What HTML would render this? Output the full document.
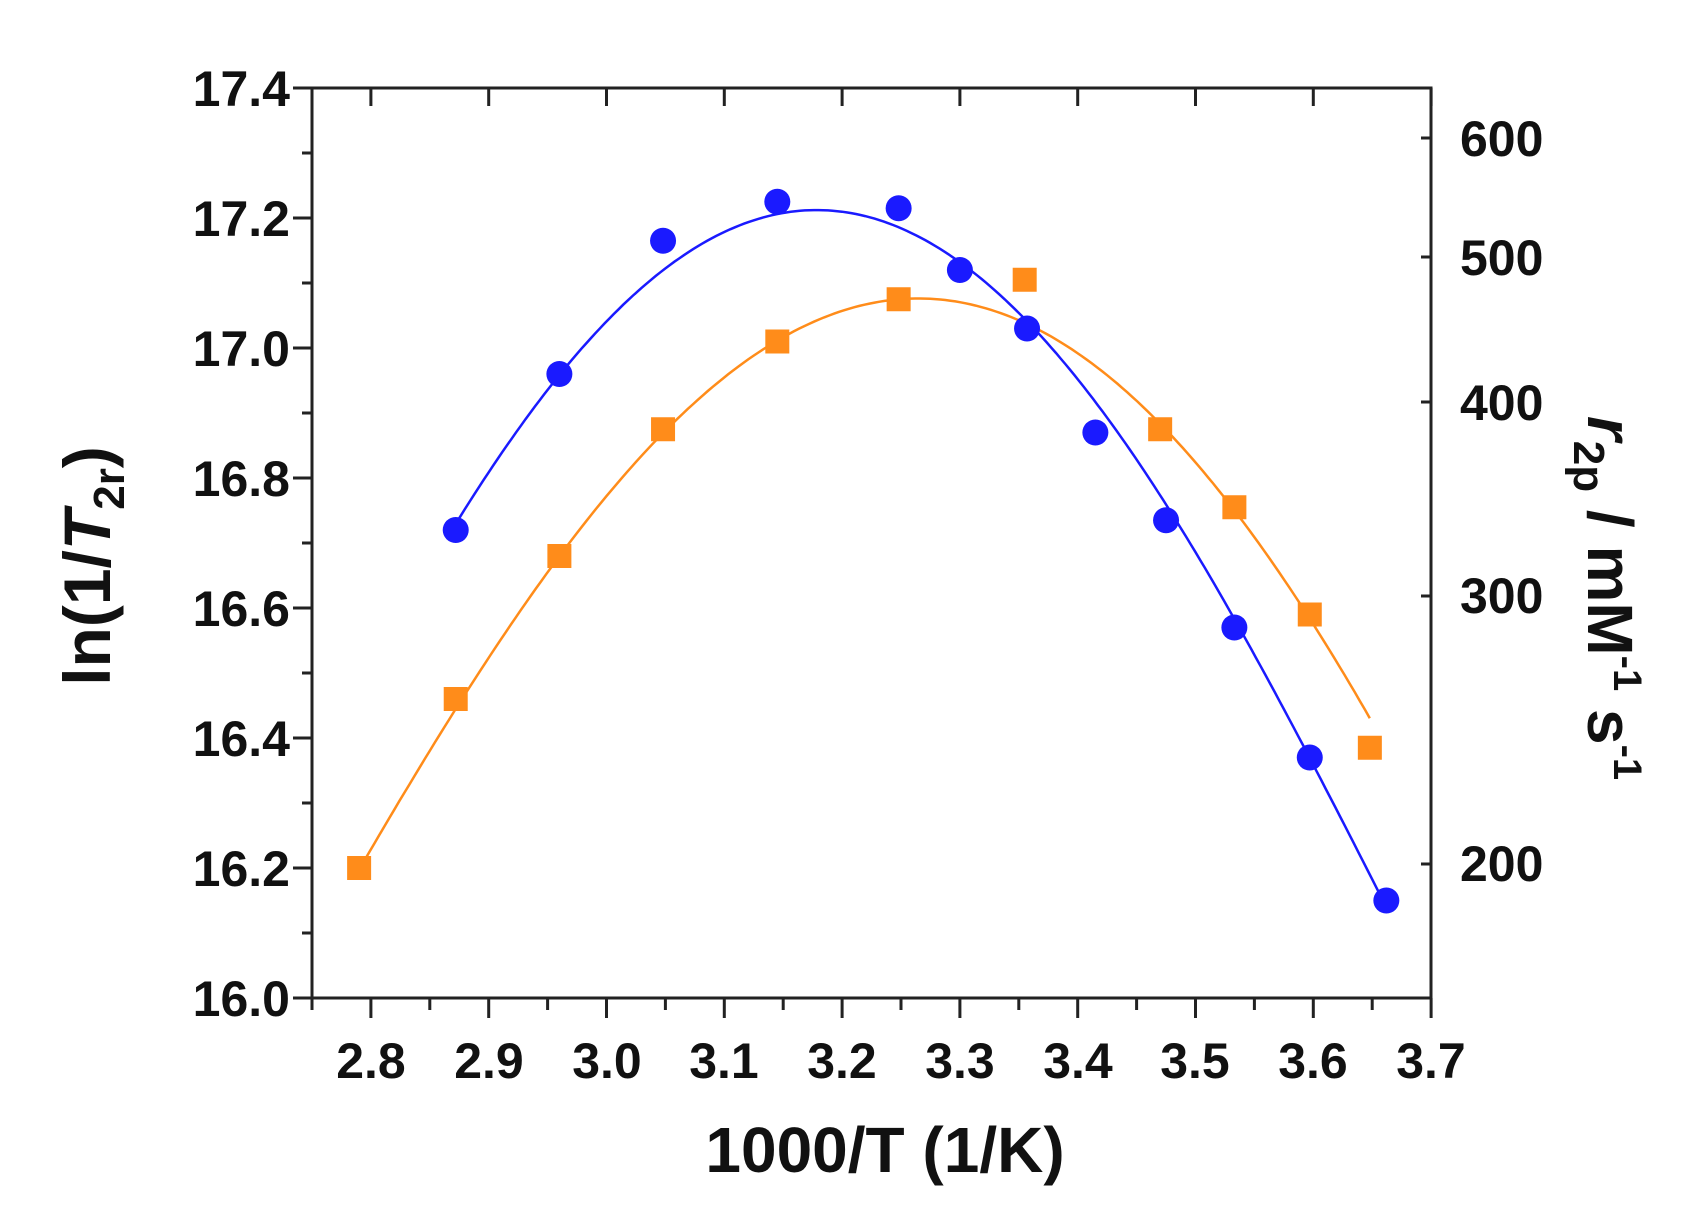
<!DOCTYPE html>
<html><head><meta charset="utf-8"><style>
html,body{margin:0;padding:0;background:#fff;}
svg{display:block;font-family:"Liberation Sans",Arial,sans-serif;font-weight:bold;}
</style></head><body>
<svg id="s" width="1700" height="1209" viewBox="0 0 1700 1209" xmlns="http://www.w3.org/2000/svg">
<rect width="1700" height="1209" fill="#fff"/>
<g id="ax" stroke="#222" stroke-width="3" fill="none"></g>
<g id="data"></g>
<g font-size="50" fill="#111" text-anchor="end">
<text x="290" y="106">17.4</text>
<text x="290" y="236">17.2</text>
<text x="290" y="366">17.0</text>
<text x="290" y="496">16.8</text>
<text x="290" y="626">16.6</text>
<text x="290" y="756">16.4</text>
<text x="290" y="886">16.2</text>
<text x="290" y="1016">16.0</text>
</g>
<g font-size="50" fill="#111" text-anchor="middle">
<text x="371" y="1078">2.8</text>
<text x="489" y="1078">2.9</text>
<text x="607" y="1078">3.0</text>
<text x="724" y="1078">3.1</text>
<text x="842" y="1078">3.2</text>
<text x="960" y="1078">3.3</text>
<text x="1078" y="1078">3.4</text>
<text x="1195" y="1078">3.5</text>
<text x="1313" y="1078">3.6</text>
<text x="1431" y="1078">3.7</text>
</g>
<g font-size="50" fill="#111" text-anchor="start">
<text x="1460" y="156">600</text>
<text x="1460" y="275">500</text>
<text x="1460" y="420">400</text>
<text x="1460" y="613">300</text>
<text x="1460" y="881">200</text>
</g>
<text x="885" y="1172" font-size="64" text-anchor="middle" fill="#111">1000/T (1/K)</text>
<text transform="translate(110,566) rotate(-90)" font-size="66" text-anchor="middle" fill="#111">ln(1/<tspan font-style="italic">T</tspan><tspan font-size="44" dy="14">2r</tspan><tspan dy="-14">)</tspan></text>
<text transform="translate(1588,598) rotate(90)" font-size="64" text-anchor="middle" fill="#111"><tspan font-style="italic">r</tspan><tspan font-size="44" dy="14">2p</tspan><tspan dy="-14"> / mM</tspan><tspan font-size="40" dy="-26">-1</tspan><tspan dy="26"> s</tspan><tspan font-size="40" dy="-26">-1</tspan></text>
</svg>
<script>
var NS="http://www.w3.org/2000/svg";
function X(v){return 312+(v-2.75)*1178;}
function Y(v){return 88+(17.4-v)*650;}
function el(p,t,a){var e=document.createElementNS(NS,t);for(var k in a)e.setAttribute(k,a[k]);p.appendChild(e);return e;}
var ax=document.getElementById('ax');
el(ax,'rect',{x:312,y:88,width:1119,height:910});
var d="";
for(var i=0;i<=14;i++){var v=17.4-i*0.1,y=Y(v);d+="M312 "+y+"H"+(i%2?302:293);}
for(var i=0;i<=19;i++){var v=2.75+i*0.05,x=X(v);var maj=(i%2==1);d+="M"+x+" 998V"+(maj?1018:1010);if(maj)d+="M"+x+" 88V106";}
[138,257,402,596,864].forEach(function(y){d+="M1431 "+y+"H1421";});
el(ax,'path',{d:d});
function fit(pts,deg){var n=deg+1,A=[],b=[];for(var i=0;i<n;i++){A.push(new Array(n).fill(0));b.push(0);}
var x0=3.2;pts.forEach(function(p){var t=p[0]-x0;for(var i=0;i<n;i++){b[i]+=Math.pow(t,i)*p[1];for(var j=0;j<n;j++)A[i][j]+=Math.pow(t,i+j);}});
for(var i=0;i<n;i++){var m=i;for(var k=i+1;k<n;k++)if(Math.abs(A[k][i])>Math.abs(A[m][i]))m=k;var tmp=A[i];A[i]=A[m];A[m]=tmp;tmp=b[i];b[i]=b[m];b[m]=tmp;
for(var k=i+1;k<n;k++){var f=A[k][i]/A[i][i];for(var j=i;j<n;j++)A[k][j]-=f*A[i][j];b[k]-=f*b[i];}}
var c=new Array(n);for(var i=n-1;i>=0;i--){var s=b[i];for(var j=i+1;j<n;j++)s-=A[i][j]*c[j];c[i]=s/A[i][i];}
return function(x){var t=x-x0,s=0;for(var i=0;i<n;i++)s+=c[i]*Math.pow(t,i);return s;};}
function draw(f,a,b,col){var s="";for(var i=0;i<=200;i++){var x=a+(b-a)*i/200;s+=(i?"L":"M")+X(x).toFixed(1)+" "+Y(f(x)).toFixed(1);}el(g,'path',{d:s,stroke:col,"stroke-width":2.5,fill:"none"});}
var g=document.getElementById('data');
var B="#1a1aff",O="#ff8c1a";
var od=[[2.79,16.2],[2.872,16.46],[2.96,16.68],[3.048,16.875],[3.145,17.01],[3.248,17.075],[3.355,17.105],[3.47,16.875],[3.533,16.755],[3.597,16.59],[3.648,16.385]];
var bd=[[2.872,16.72],[2.96,16.96],[3.048,17.165],[3.145,17.225],[3.248,17.215],[3.30,17.12],[3.357,17.03],[3.415,16.87],[3.475,16.735],[3.533,16.57],[3.597,16.37],[3.662,16.15]];
var oc=[[2.79,16.2],[2.872,16.44],[2.96,16.68],[3.048,16.87],[3.145,17.01],[3.20,17.06],[3.248,17.08],[3.30,17.07],[3.355,17.04],[3.41,16.97],[3.47,16.875],[3.533,16.755],[3.597,16.6],[3.648,16.42]];
var bc=[[2.872,16.73],[2.92,16.86],[2.96,16.96],[3.048,17.12],[3.10,17.18],[3.145,17.205],[3.175,17.21],[3.21,17.205],[3.248,17.19],[3.30,17.13],[3.357,17.04],[3.415,16.92],[3.475,16.76],[3.533,16.58],[3.597,16.37],[3.662,16.14]];
draw(fit(oc,4),2.79,3.648,O);
draw(fit(bc,4),2.872,3.662,B);
od.forEach(function(q){el(g,'rect',{x:X(q[0])-12,y:Y(q[1])-12,width:24,height:24,fill:O});});
bd.forEach(function(q){el(g,'circle',{cx:X(q[0]),cy:Y(q[1]),r:13,fill:B});});
</script>
</body></html>
